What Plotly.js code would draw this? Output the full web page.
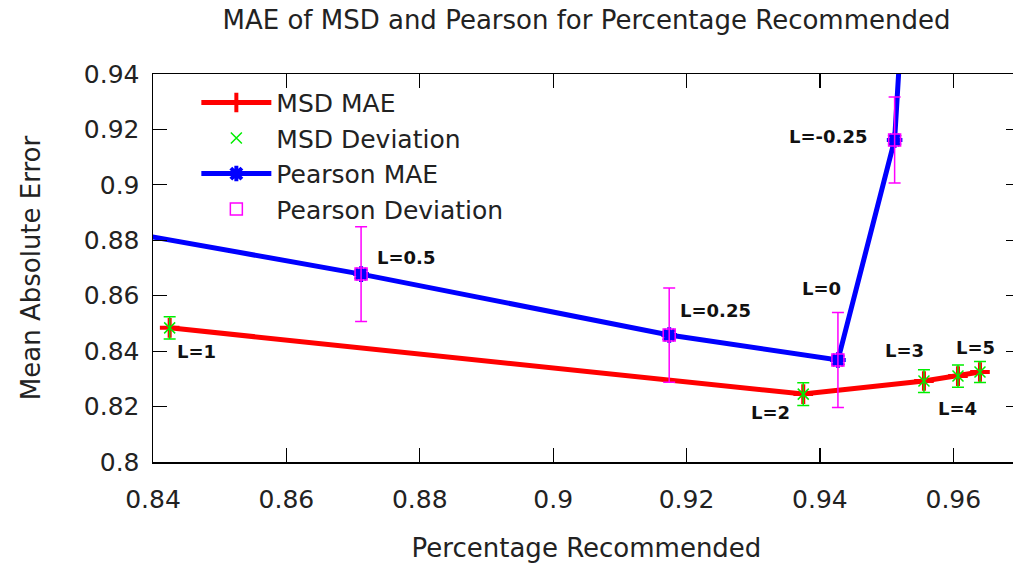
<!DOCTYPE html>
<html>
<head>
<meta charset="utf-8">
<script src="https://cdn.plot.ly/plotly-3.0.1.min.js"></script>
<style>
html, body { margin: 0; padding: 0; overflow: hidden; background: #fff; }
#chart { width: 1020px; height: 563px; }
</style>
</head>
<body>
<div id="chart"></div>
<script>
// MSD series
const msdX = [0.8425, 0.9375, 0.9556, 0.9607, 0.9640];
const msdMAE = [0.8484, 0.8245, 0.8292, 0.8310, 0.8325];
const msdDev = [0.0040, 0.0041, 0.0041, 0.0040, 0.0038];
const msdLabels = ["L=1", "L=2", "L=3", "L=4", "L=5"];

// Pearson series (first and last points fall outside the visible range)
const pearX = [0.8300, 0.8712, 0.9174, 0.9427, 0.9512, 0.9528];
const pearMAE = [0.8855, 0.8678, 0.8458, 0.8368, 0.9162, 0.9800];
const pearDev = [0.0170, 0.0171, 0.0170, 0.0171, 0.0155, 0.0160];
const pearLabels = ["L=0.75", "L=0.5", "L=0.25", "L=0", "L=-0.25", "L=-0.5"];

const xTicks = [0.84, 0.86, 0.88, 0.9, 0.92, 0.94, 0.96];
const yTicks = [0.8, 0.82, 0.84, 0.86, 0.88, 0.9, 0.92, 0.94];

// label offsets (pixels) — styling only
const msdShift = [[27, -24], [-33, -18], [-19, 31], [0, -32], [-4, 24]];
const pearShift = [null, [45, 17], [46, 25], [-16, 72], [-67, 3], null];

const FONT = "DejaVu Sans, sans-serif";

const traces = [
  {
    name: "MSD MAE", x: msdX, y: msdMAE, mode: "lines+markers", type: "scatter",
    line: { color: "#ff0000", width: 5 },
    marker: { symbol: "cross-thin-open", size: 14, color: "#ff0000", line: { color: "#ff0000", width: 4 } }
  },
  {
    name: "MSD Deviation", x: msdX, y: msdMAE, mode: "markers", type: "scatter",
    marker: { symbol: "x-thin-open", size: 11, color: "#00ee00", line: { color: "#00ee00", width: 1.5 } },
    error_y: { type: "data", array: msdDev, visible: true, color: "#00ee00", thickness: 1.5, width: 6 }
  },
  {
    name: "Pearson MAE", x: pearX, y: pearMAE, mode: "lines+markers", type: "scatter",
    line: { color: "#0000ff", width: 5 },
    marker: { symbol: "asterisk-open", size: 13, color: "#0000ff", line: { color: "#0000ff", width: 4 } }
  },
  {
    name: "Pearson Deviation", x: pearX, y: pearMAE, mode: "markers", type: "scatter",
    marker: { symbol: "square-open", size: 12, color: "#ff00ff", line: { color: "#ff00ff", width: 1.5 } },
    error_y: { type: "data", array: pearDev, visible: true, color: "#ff00ff", thickness: 1.5, width: 6 }
  }
];

const annotations = [];
msdX.forEach((x, i) => {
  annotations.push({
    x: x, y: msdMAE[i], xref: "x", yref: "y", text: msdLabels[i], showarrow: false,
    xshift: msdShift[i][0], yshift: msdShift[i][1],
    font: { family: FONT, size: 18, color: "#111", weight: "bold" }
  });
});
pearX.forEach((x, i) => {
  if (!pearShift[i]) return;
  annotations.push({
    x: x, y: pearMAE[i], xref: "x", yref: "y", text: pearLabels[i], showarrow: false,
    xshift: pearShift[i][0], yshift: pearShift[i][1],
    font: { family: FONT, size: 18, color: "#111", weight: "bold" }
  });
});

const axisCommon = {
  showgrid: false, zeroline: false, showline: true, linecolor: "#000", linewidth: 1.5,
  mirror: "ticks", ticks: "inside", ticklen: 14, tickwidth: 1.2, tickcolor: "#000",
  tickfont: { family: FONT, size: 25, color: "#222" }
};

const layout = {
  width: 1020, height: 563,
  margin: { l: 153, r: 0, t: 74, b: 101 },
  paper_bgcolor: "#fff", plot_bgcolor: "#fff",
  title: {
    text: "MAE of MSD and Pearson for Percentage Recommended",
    font: { family: FONT, size: 26, color: "#222" },
    x: 0.5, xref: "paper", y: 1 - 20 / 563, yref: "container", yanchor: "middle"
  },
  xaxis: Object.assign({}, axisCommon, {
    range: [0.84, 0.97], tickvals: xTicks, ticktext: xTicks.map(String),
    ticklabelstandoff: 14,
    title: { text: "Percentage Recommended", font: { family: FONT, size: 26, color: "#222" }, standoff: 26 },
    automargin: false
  }),
  yaxis: Object.assign({}, axisCommon, {
    range: [0.8, 0.94], tickvals: yTicks, ticktext: yTicks.map(String),
    ticklabelstandoff: 7,
    title: { text: "Mean Absolute Error", font: { family: FONT, size: 26, color: "#222" }, standoff: 35 },
    automargin: false
  }),
  showlegend: true,
  legend: {
    x: 0.05, y: 0.985, xanchor: "left", yanchor: "top",
    bgcolor: "rgba(255,255,255,0)", borderwidth: 0,
    font: { family: FONT, size: 25, color: "#222" },
    itemwidth: 70, tracegroupgap: 0
  },
  annotations: annotations
};

Plotly.newPlot("chart", traces, layout, { displayModeBar: false, staticPlot: true });
</script>
</body>
</html>
